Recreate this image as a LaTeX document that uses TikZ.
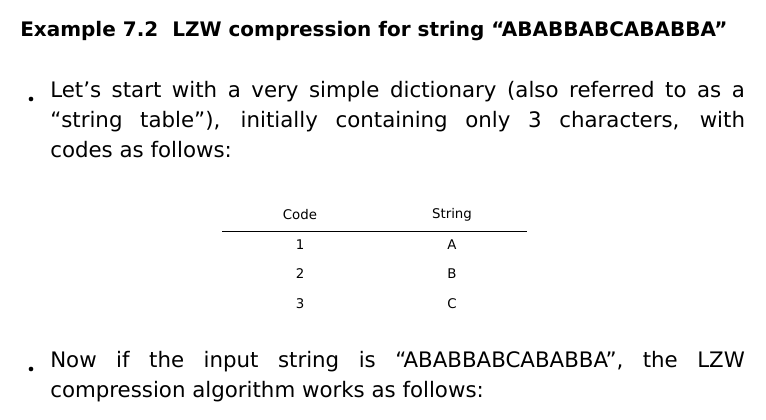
\documentclass[tikz,border=0pt]{standalone}
\usepackage{fontspec}
\setmainfont{DejaVu Sans}
\usetikzlibrary{positioning}
\tikzset{
  bodytext/.style={anchor=north west,text width=521pt,align=justify,inner sep=0pt,font=\fontsize{16}{22.5}\selectfont},
  bulletdot/.style={circle,fill=black,inner sep=0pt,minimum size=3.5pt},
  cell/.style={font=\fontsize{10}{12}\selectfont,inner sep=0pt}
}
\begin{document}
\begin{tikzpicture}[x=0.75pt,y=-0.75pt]
\useasboundingbox (0,0) rectangle (766,420);
% Title
\node[anchor=base west,inner sep=0pt,font=\bfseries\fontsize{15}{18}\selectfont] (title) at (20,37)
  {Example 7.2\hspace{0.7em}LZW compression for string “ABABBABCABABBA”};
% First bullet
\node[bulletdot] (dotA) at (31,99) {};
\node[bodytext] (textA) at (50,81) {Let’s start with a very simple dictionary (also referred to as a\linebreak “string table”), initially containing only 3 characters, with\linebreak codes as follows:};
% Table
\node[cell] (hcode) at (300,215) {Code};
\node[cell] (hstring) at (452,215) {String};
\draw (222,231) -- (527,231);
\foreach \y/\c/\s in {245/1/A,274/2/B,304/3/C} {
  \node[cell] (code\c) at (300,\y) {\c};
  \node[cell] (str\c) at (452,\y) {\s};
}
% Second bullet
\node[bulletdot] (dotB) at (31,369) {};
\node[bodytext] (textB) at (50,351) {Now if the input string is “ABABBABCABABBA”, the LZW\linebreak compression algorithm works as follows:};
\end{tikzpicture}
\end{document}
